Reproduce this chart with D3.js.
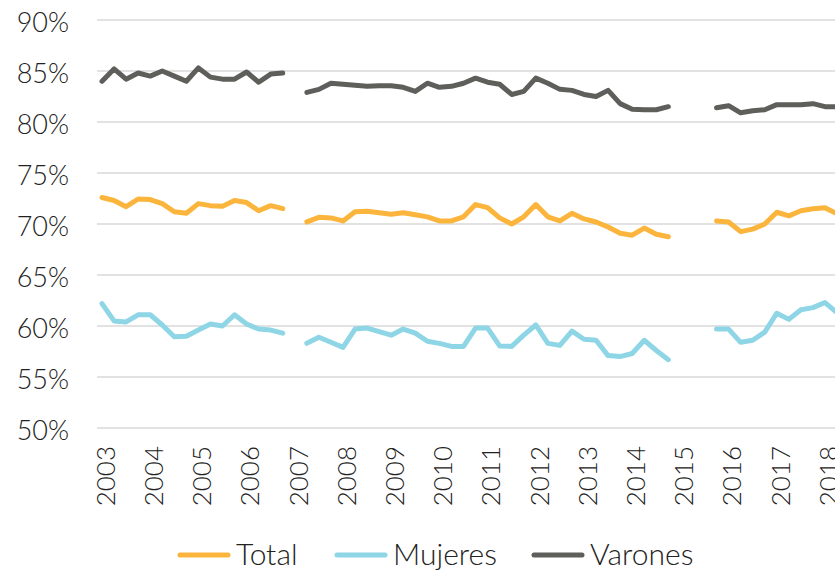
<!DOCTYPE html>
<html>
<head>
<meta charset="utf-8">
<script src="https://cdn.jsdelivr.net/npm/d3@7"></script>
<style>
  body { margin: 0; background: #fff; }
  svg { display: block; font-family: Lato, "Open Sans", sans-serif; }
</style>
</head>
<body>
<div id="chart"></div>
<script>
// quarters shown on the category axis (2003 T1 .. 2018 T2)
var years = ["2003", "2004", "2005", "2006", "2007", "2008", "2009", "2010",
             "2011", "2012", "2013", "2014", "2015", "2016", "2017", "2018"];
var quarterNames = ["T1", "T2", "T3", "T4"];
var quarters = [];
years.forEach(function(y) {
   quarterNames.forEach(function(q) { quarters.push(y + q); });
});
quarters = quarters.slice(0, 62);

var yTicks = [50, 55, 60, 65, 70, 75, 80, 85, 90];

// rates in %, null where the series is broken
var total = [72.6, 72.3, 71.7, 72.45, 72.4, 72.0, 71.2, 71.05, 72.0, 71.8, 71.75, 72.3, 72.1, 71.3, 71.8, 71.5,
             null,
             70.2, 70.65, 70.6, 70.3, 71.2, 71.25, 71.1, 70.95, 71.1, 70.9, 70.7, 70.3, 70.3, 70.7, 71.9,
             71.6, 70.6, 70.0, 70.7, 71.9, 70.7, 70.3, 71.05, 70.5, 70.2, 69.7, 69.1, 68.9, 69.6, 69.0, 68.75,
             null, null, null,
             70.3, 70.2, 69.25, 69.5, 70.0, 71.15, 70.8, 71.3, 71.5, 71.6, 71.0];

var mujeres = [62.2, 60.5, 60.4, 61.1, 61.1, 60.1, 58.95, 59.0, 59.6, 60.2, 60.0, 61.1, 60.2, 59.7, 59.6, 59.3,
               null,
               58.3, 58.9, 58.4, 57.9, 59.7, 59.8, 59.45, 59.1, 59.7, 59.3, 58.5, 58.3, 58.0, 58.0, 59.8,
               59.8, 58.05, 58.0, 59.1, 60.1, 58.3, 58.1, 59.5, 58.7, 58.6, 57.1, 57.0, 57.3, 58.6, 57.6, 56.7,
               null, null, null,
               59.7, 59.7, 58.4, 58.6, 59.4, 61.25, 60.65, 61.6, 61.8, 62.3, 61.3];

var varones = [84.0, 85.2, 84.2, 84.8, 84.5, 85.0, 84.5, 84.0, 85.3, 84.4, 84.2, 84.2, 84.9, 83.9, 84.7, 84.8,
               null,
               82.9, 83.2, 83.8, 83.7, 83.6, 83.5, 83.55, 83.55, 83.4, 83.0, 83.8, 83.4, 83.5, 83.8, 84.3,
               83.9, 83.7, 82.7, 83.0, 84.3, 83.8, 83.2, 83.1, 82.7, 82.5, 83.1, 81.8, 81.25, 81.2, 81.2, 81.5,
               null, null, null,
               81.4, 81.6, 80.9, 81.1, 81.2, 81.7, 81.7, 81.7, 81.8, 81.5, 81.5];

var seriesNames = ["Total", "Mujeres", "Varones"];
var seriesColors = ["#FBB53C", "#8ED6E6", "#5E5F5A"];
var seriesValues = [total, mujeres, varones];

var width = 835,
    height = 571;

var svg = d3.select("#chart")
   .append("svg")
   .attr("width", width)
   .attr("height", height);

// scales
var x = d3.scalePoint()
   .domain(quarters)
   .range([102, 102 + 12.05 * (quarters.length - 1)]);

var y = d3.scaleLinear()
   .domain([50, 90])
   .range([428, 20]);

// horizontal gridlines
svg.append("g")
   .selectAll("line")
   .data(yTicks)
   .enter().append("line")
   .attr("x1", 97)
   .attr("x2", width)
   .attr("y1", function(d) { return y(d); })
   .attr("y2", function(d) { return y(d); })
   .attr("stroke", "#d9d9d9")
   .attr("stroke-width", 1.5);

// y axis labels
var yAxis = d3.axisLeft(y)
   .tickValues(yTicks)
   .tickSize(0)
   .tickPadding(0)
   .tickFormat(function(d) { return d + "%"; });

var gy = svg.append("g")
   .attr("transform", "translate(69,3)")
   .call(yAxis);
gy.select(".domain").remove();
gy.selectAll("text")
   .attr("font-family", "Lato, sans-serif")
   .attr("font-weight", 300)
   .attr("font-size", 27)
   .attr("fill", "#222");

// x axis labels (one per year, rotated)
var xAxis = d3.axisBottom(x)
   .tickValues(quarters.filter(function(q) { return q.slice(4) === "T1"; }))
   .tickSize(0)
   .tickFormat(function(d) { return d.slice(0, 4); });

var gx = svg.append("g")
   .attr("transform", "translate(3,446)")
   .call(xAxis);
gx.select(".domain").remove();
gx.selectAll("text")
   .attr("font-family", "Lato, sans-serif")
   .attr("font-weight", 300)
   .attr("font-size", 26)
   .attr("fill", "#222")
   .attr("text-anchor", "end")
   .attr("transform", "rotate(-90)")
   .attr("x", 0)
   .attr("y", 0)
   .attr("dy", "0.36em");

// lines
var line = d3.line()
   .defined(function(d) { return d != null; })
   .x(function(d, i) { return x(quarters[i]); })
   .y(function(d) { return y(d); });

svg.append("g")
   .selectAll("path")
   .data(seriesValues)
   .enter().append("path")
   .attr("d", function(d) { return line(d); })
   .attr("fill", "none")
   .attr("stroke", function(d, i) { return seriesColors[i]; })
   .attr("stroke-width", 5)
   .attr("stroke-linecap", "round")
   .attr("stroke-linejoin", "round");

// legend
var legendX = [178, 335, 532];
var legend = svg.append("g")
   .selectAll("g")
   .data(seriesNames)
   .enter().append("g")
   .attr("transform", function(d, i) { return "translate(" + legendX[i] + ",555)"; });

legend.append("line")
   .attr("x1", 2)
   .attr("x2", 50)
   .attr("stroke", function(d, i) { return seriesColors[i]; })
   .attr("stroke-width", 5)
   .attr("stroke-linecap", "round");

legend.append("text")
   .attr("x", 58)
   .attr("dy", "0.34em")
   .attr("font-weight", 300)
   .attr("font-size", 30)
   .attr("fill", "#222")
   .text(function(d) { return d; });
</script>
</body>
</html>
